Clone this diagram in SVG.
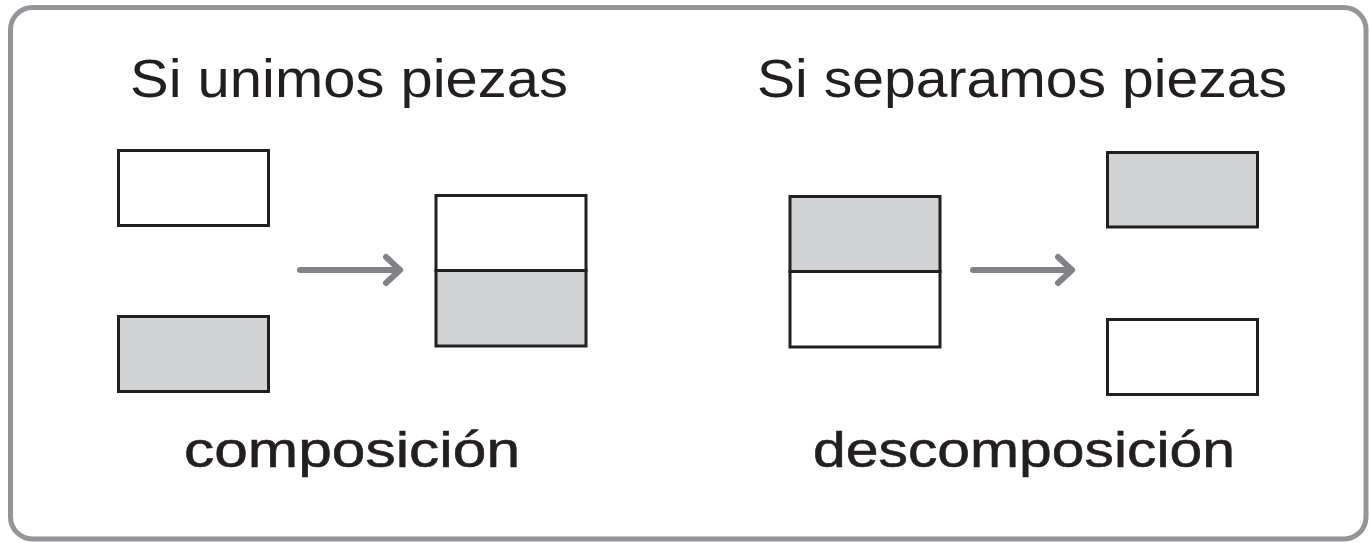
<svg xmlns="http://www.w3.org/2000/svg" width="1370" height="543" viewBox="0 0 1370 543">
<style>
.frame{fill:#ffffff;stroke:#939598;stroke-width:5}
.piece{stroke:#231f20;stroke-width:3}
.white{fill:#ffffff}
.gray{fill:#d1d3d4}
.arrow{fill:none;stroke:#808285;stroke-width:6;stroke-linecap:round;stroke-linejoin:round}
.head{font-family:"Liberation Sans",Arial,sans-serif;font-size:53px;fill:#231f20}
.label{font-family:"Liberation Sans",Arial,sans-serif;font-size:50px;fill:#231f20;stroke:#231f20;stroke-width:0.6}
</style>
<rect class="frame" x="10.5" y="7.5" width="1355.5" height="531.5" rx="22" ry="22"/>
<g id="title-left"><text class="head" x="130" y="97" textLength="438" lengthAdjust="spacingAndGlyphs">Si unimos piezas</text></g>
<g id="title-right"><text class="head" x="757" y="97" textLength="530" lengthAdjust="spacingAndGlyphs">Si separamos piezas</text></g>
<g id="piece-white-left"><rect class="piece white" x="118.5" y="150.5" width="150" height="75"/></g>
<g id="piece-gray-left"><rect class="piece gray" x="118.5" y="316.5" width="150" height="75"/></g>
<g id="composed-left">
<rect class="piece white" x="436" y="195.5" width="150" height="75"/>
<rect class="piece gray" x="436" y="270.5" width="150" height="75.5"/>
</g>
<g id="composed-right">
<rect class="piece gray" x="790" y="196.5" width="150" height="75"/>
<rect class="piece white" x="790" y="271.5" width="150" height="75.5"/>
</g>
<g id="piece-gray-right"><rect class="piece gray" x="1107.5" y="152.5" width="150" height="74.5"/></g>
<g id="piece-white-right"><rect class="piece white" x="1107.5" y="319.5" width="150" height="75"/></g>
<g id="connectors">
<path class="arrow" d="M300 270 H400 M386 257 L400 270 L386 283"/>
<path class="arrow" d="M973 270 H1072 M1058 257 L1072 270 L1058 283"/>
</g>
<g id="label-left"><text class="label" x="184" y="467" textLength="336" lengthAdjust="spacingAndGlyphs">composición</text></g>
<g id="label-right"><text class="label" x="813" y="467" textLength="422" lengthAdjust="spacingAndGlyphs">descomposición</text></g>
</svg>
